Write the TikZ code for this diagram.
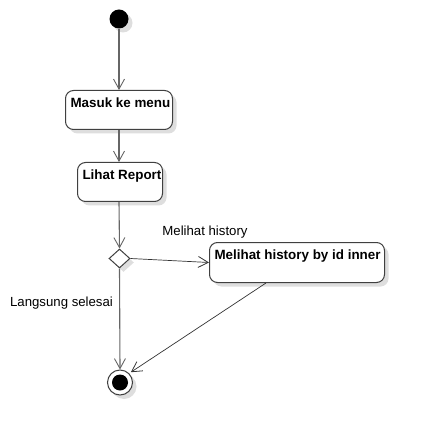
\documentclass[tikz,border=0pt]{standalone}
\usepackage{fontspec}
\setmainfont{Liberation Sans}
\usetikzlibrary{arrows.meta,shapes.geometric,shadows,calc}
\newcommand{\actbox}[2]{\makebox[#1][l]{#2}}
\tikzset{
  x=1pt,y=-1pt,
  shade/.style={drop shadow={shadow xshift=4pt,shadow yshift=-4pt,fill=black!13,opacity=1}},
  act/.style={draw=black!75,line width=1pt,rounded corners=8pt,fill=white,shade,
    anchor=north west,inner xsep=5pt,inner ysep=0pt,
    font=\bfseries\fontsize{13.4}{15}\selectfont,text height=17pt},
  flow/.style={draw=black!60,line width=1.1pt,-{Straight Barb[length=10pt,width=11pt,line width=0.9pt]}},
  thin/.style={draw=black!80,line width=0.7pt,-{Straight Barb[length=10pt,width=11pt,line width=0.8pt]}},
  lbl/.style={font=\fontsize{13.2}{15}\selectfont,inner sep=0pt},
}
\begin{document}
\begin{tikzpicture}
\useasboundingbox (0,0) rectangle (424,435);
\node[circle,fill=black,minimum size=19pt,inner sep=0pt,shade] (start) at (119,19) {};
\node[act,text depth=22pt] (masuk) at (65,90) {\actbox{97pt}{Masuk ke menu}};
\node[act,text depth=22pt] (lihat) at (77,162) {\actbox{75pt}{Lihat Report}};
\node[diamond,draw=black!75,line width=1pt,fill=white,shade,inner sep=0pt,minimum width=21pt,minimum height=19pt] (dec) at (119.5,258.5) {};
\node[act,text depth=23pt] (hist) at (209,242) {\actbox{165pt}{Melihat history by id inner}};
\node[circle,draw=black!75,line width=1pt,fill=white,minimum size=25pt,inner sep=0pt,shade] (final) at (120,382.5) {};
\node[circle,fill=black,minimum size=16pt,inner sep=0pt] (finalin) at (final) {};
\coordinate (hb) at ($(hist.south west)+(57,0)$);
\node[lbl] (lmh) at (205,232) {Melihat history};
\node[lbl] (lls) at (61.5,303) {Langsung selesai};
\draw[flow] (start.south) -- (start.south |- masuk.north);
\draw[flow] (start.south |- masuk.south) -- (start.south |- lihat.north);
\draw[flow] (start.south |- lihat.south) -- (dec.north);
\draw[flow] (dec.south) -- (final.north);
\draw[thin] (dec.east) -- (hist.west);
\draw[thin,shorten >=2pt] (hb) -- (final.north east);
\end{tikzpicture}
\end{document}
